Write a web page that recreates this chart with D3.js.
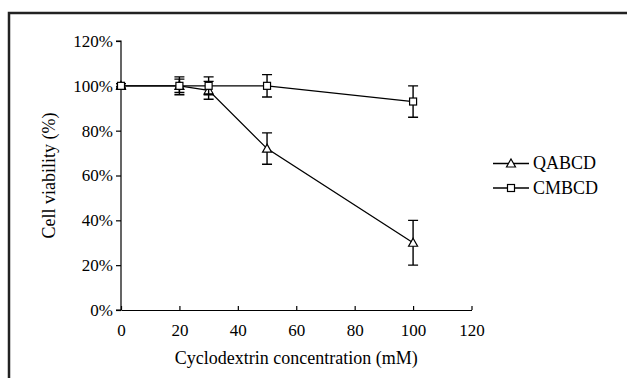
<!DOCTYPE html>
<html>
<head>
<meta charset="utf-8">
<script src="https://cdn.jsdelivr.net/npm/d3@7"></script>
<style>
  body { margin: 0; background: #fff; }
</style>
</head>
<body>
<svg width="627" height="378"></svg>
<script>
let conc = [0, 20, 30, 50, 100];
let qabcd = [100, 100, 98, 72, 30];
let qabcdErr = [1, 3, 4, 7, 10];
let cmbcd = [100, 100, 100, 100, 93];
let cmbcdErr = [1, 4, 4, 5, 7];
let xTicks = [0, 20, 40, 60, 80, 100, 120];
let yTicks = [0, 20, 40, 60, 80, 100, 120];

const FONT = '"Liberation Serif", serif';

let svg = d3.select("svg");

// outer frame (cut off at right and bottom)
svg.append("path")
    .attr("d", "M9,378 V13 H627")
    .attr("fill", "none")
    .attr("stroke", "#222")
    .attr("stroke-width", 2.5);

let x = d3.scaleLinear().domain([0, 120]).range([121, 471.5]);
let y = d3.scaleLinear().domain([0, 120]).range([310, 41]);

// y axis
let yAxis = svg.append("g")
    .attr("transform", "translate(121,0)")
    .call(d3.axisLeft(y).tickValues(yTicks).tickSize(5).tickPadding(3).tickFormat(d => d + "%"));
yAxis.select(".domain").attr("d", "M-5,41H0V310H-5").attr("stroke-width", 1.2);
yAxis.selectAll("line").attr("stroke-width", 1.2);
yAxis.selectAll("text")
    .style("font-family", FONT, "important")
    .style("font-size", "17px", "important");

// x axis
let xAxis = svg.append("g")
    .attr("transform", "translate(0,310)")
    .call(d3.axisBottom(x).tickValues(xTicks).tickSizeInner(-4).tickSizeOuter(0).tickPadding(14));
xAxis.select(".domain").attr("stroke-width", 1.2);
xAxis.selectAll("line").attr("stroke-width", 1.2);
xAxis.selectAll("text")
    .style("font-family", FONT, "important")
    .style("font-size", "17px", "important");

svg.append("text")
    .attr("x", (x(0) + x(120)) / 2)
    .attr("y", 364)
    .attr("text-anchor", "middle")
    .style("font-family", FONT)
    .style("font-size", "18px")
    .text("Cyclodextrin concentration (mM)");

svg.append("text")
    .attr("transform", "translate(55," + (y(0) + y(120)) / 2 + ") rotate(-90)")
    .attr("text-anchor", "middle")
    .style("font-family", FONT)
    .style("font-size", "18px")
    .text("Cell viability (%)");

let series = [
    { name: "QABCD", vals: qabcd, err: qabcdErr, shape: "tri" },
    { name: "CMBCD", vals: cmbcd, err: cmbcdErr, shape: "sq" }
];

let line = d3.line().x((d, i) => x(conc[i])).y(d => y(d));

function drawMarker(sel, shape) {
    if (shape === "tri") {
        sel.append("path")
            .attr("d", "M0,-4.5 L4.5,3.5 L-4.5,3.5 Z")
            .attr("fill", "#fff")
            .attr("stroke", "#000")
            .attr("stroke-width", 1.2);
    } else {
        sel.append("rect")
            .attr("x", -3.5).attr("y", -3.5)
            .attr("width", 7).attr("height", 7)
            .attr("fill", "#fff")
            .attr("stroke", "#000")
            .attr("stroke-width", 1.2);
    }
}

series.forEach(s => {
    let sg = svg.append("g");
    // error bars
    s.vals.forEach((v, i) => {
        let cx = x(conc[i]);
        let top = y(v + s.err[i]), bot = y(v - s.err[i]);
        sg.append("path")
            .attr("d", `M${cx},${top}V${bot}M${cx - 5},${top}H${cx + 5}M${cx - 5},${bot}H${cx + 5}`)
            .attr("fill", "none")
            .attr("stroke", "#000")
            .attr("stroke-width", 1.4);
    });
    sg.append("path")
        .attr("d", line(s.vals))
        .attr("fill", "none")
        .attr("stroke", "#000")
        .attr("stroke-width", 1.3);
    s.vals.forEach((v, i) => {
        let m = sg.append("g").attr("transform", `translate(${x(conc[i])},${y(v)})`);
        drawMarker(m, s.shape);
    });
});

// legend
series.forEach((s, i) => {
    let ly = 163.5 + i * 24.5;
    let lg = svg.append("g").attr("transform", `translate(0,${ly})`);
    lg.append("line")
        .attr("x1", 493).attr("x2", 529)
        .attr("stroke", "#000").attr("stroke-width", 1.3);
    let m = lg.append("g").attr("transform", "translate(511,0)");
    drawMarker(m, s.shape);
    lg.append("text")
        .attr("x", 533)
        .attr("y", 5.5)
        .style("font-family", FONT)
        .style("font-size", "18px")
        .text(s.name);
});
</script>
</body>
</html>
